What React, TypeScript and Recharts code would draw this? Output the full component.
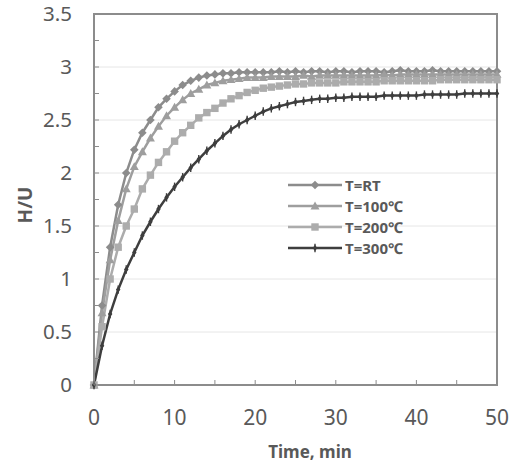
import React from 'react';
import { LineChart, Line, XAxis, YAxis, CartesianGrid, Legend, ReferenceArea, Label } from 'recharts';

const times: number[] = Array.from({ length: 51 }, (_, i) => i);

const seriesRT: number[] = [
  0, 0.75, 1.3, 1.7, 2.0, 2.22, 2.38, 2.5, 2.62, 2.7, 2.77,
  2.83, 2.87, 2.9, 2.92, 2.93, 2.94, 2.94, 2.95, 2.95, 2.95,
  2.95, 2.95, 2.96, 2.95, 2.96, 2.95, 2.96, 2.96, 2.95, 2.96,
  2.96, 2.95, 2.96, 2.96, 2.96, 2.95, 2.96, 2.97, 2.96, 2.96,
  2.96, 2.97, 2.96, 2.96, 2.96, 2.96, 2.96, 2.96, 2.96, 2.96,
];
const series100: number[] = [
  0, 0.68, 1.18, 1.55, 1.85, 2.06, 2.2, 2.33, 2.44, 2.54, 2.62,
  2.69, 2.75, 2.79, 2.83, 2.85, 2.87, 2.88, 2.89, 2.9, 2.9,
  2.9, 2.91, 2.91, 2.91, 2.91, 2.92, 2.91, 2.92, 2.92, 2.92,
  2.92, 2.92, 2.92, 2.92, 2.92, 2.93, 2.92, 2.93, 2.93, 2.93,
  2.93, 2.93, 2.93, 2.93, 2.93, 2.93, 2.93, 2.93, 2.93, 2.93,
];
const series200: number[] = [
  0, 0.55, 1.0, 1.3, 1.5, 1.66, 1.85, 1.98, 2.1, 2.2, 2.3,
  2.38, 2.45, 2.52, 2.57, 2.61, 2.66, 2.7, 2.73, 2.76, 2.78,
  2.8, 2.81, 2.82, 2.83, 2.84, 2.84, 2.85, 2.85, 2.85, 2.85,
  2.86, 2.86, 2.86, 2.86, 2.86, 2.87, 2.87, 2.87, 2.87, 2.87,
  2.87, 2.87, 2.88, 2.88, 2.88, 2.88, 2.88, 2.88, 2.88, 2.88,
];
const series300: number[] = [
  0, 0.37, 0.67, 0.9, 1.09, 1.25, 1.41, 1.54, 1.66, 1.77, 1.87,
  1.96, 2.05, 2.13, 2.21, 2.28, 2.35, 2.41, 2.46, 2.5, 2.54,
  2.58, 2.61, 2.63, 2.65, 2.67, 2.68, 2.69, 2.7, 2.7, 2.71,
  2.71, 2.72, 2.72, 2.72, 2.72, 2.73, 2.73, 2.73, 2.73, 2.73,
  2.74, 2.74, 2.74, 2.74, 2.74, 2.75, 2.75, 2.75, 2.75, 2.75,
];

const seriesNames: string[] = ['T=RT', 'T=100\u2103', 'T=200\u2103', 'T=300\u2103'];
const xTicks: number[] = [0, 5, 10, 15, 20, 25, 30, 35, 40, 45, 50];
const xLabelTicks: number[] = [0, 10, 20, 30, 40, 50];
const yTicks: number[] = [0, 0.25, 0.5, 0.75, 1, 1.25, 1.5, 1.75, 2, 2.25, 2.5, 2.75, 3, 3.25, 3.5];
const yLabelTicks: number[] = [0, 0.5, 1, 1.5, 2, 2.5, 3, 3.5];
const gridValues: number[] = [0.5, 1, 1.5, 2, 2.5, 3];

const data = times.map((t, i) => ({
  t,
  rt: seriesRT[i],
  c100: series100[i],
  c200: series200[i],
  c300: series300[i],
}));

const COLORS = ['#8c8c8c', '#9e9e9e', '#acacac', '#3e3e3e'];
const TEXT = '#595959';
const AXIS = '#8c8c8c';
const FONT = '"Noto Sans", sans-serif';
const X_MARGIN = 12;
const Y_MARGIN = 22;

const markerShape = (kind: number, cx: number, cy: number, color: string, key?: any) => {
  if (cx == null || cy == null || isNaN(cx) || isNaN(cy)) return <g key={key} />;
  if (kind === 0) {
    const r = 4.3;
    return <polygon key={key} points={`${cx},${cy - r} ${cx + r},${cy} ${cx},${cy + r} ${cx - r},${cy}`} fill={color} />;
  }
  if (kind === 1) {
    const r = 4.5;
    return <polygon key={key} points={`${cx},${cy - r} ${cx + r},${cy + r * 0.75} ${cx - r},${cy + r * 0.75}`} fill={color} />;
  }
  if (kind === 2) {
    const r = 3.7;
    return <rect key={key} x={cx - r} y={cy - r} width={2 * r} height={2 * r} fill={color} />;
  }
  const r = 3.2;
  return (
    <g key={key}>
      <polygon points={`${cx},${cy - r} ${cx + r * 0.7},${cy} ${cx},${cy + r} ${cx - r * 0.7},${cy}`} fill={color} />
      <line x1={cx} y1={cy - r - 1} x2={cx} y2={cy + r + 1} stroke={color} strokeWidth={1.4} />
    </g>
  );
};

const makeDot = (kind: number) => (props: any) =>
  markerShape(kind, props.cx, props.cy, COLORS[kind], props.key ?? props.index);

const XTick = (props: any) => {
  const { x, y, payload } = props;
  const axisY = y - X_MARGIN;
  const v = payload.value;
  return (
    <g>
      <line x1={x} x2={x} y1={axisY} y2={axisY - 5} stroke={AXIS} strokeWidth={1} />
      {xLabelTicks.includes(v) && (
        <text x={x} y={axisY + 40} textAnchor="middle" fill={TEXT} fontSize={21} fontFamily={FONT}>
          {v}
        </text>
      )}
    </g>
  );
};

const YTick = (props: any) => {
  const { x, y, payload } = props;
  const axisX = x + Y_MARGIN;
  const v = payload.value;
  return (
    <g>
      <line x1={axisX} x2={axisX + 5} y1={y} y2={y} stroke={AXIS} strokeWidth={1} />
      {yLabelTicks.includes(v) && (
        <text x={x} y={y} dy="0.36em" textAnchor="end" fill={TEXT} fontSize={20.5} fontFamily={FONT}>
          {v}
        </text>
      )}
    </g>
  );
};

const LegendContent = () => (
  <div style={{ fontFamily: FONT, fontWeight: 700, fontSize: 15, color: TEXT, lineHeight: '21px' }}>
    {seriesNames.map((name, i) => (
      <div key={name} style={{ display: 'flex', alignItems: 'center', height: 21, whiteSpace: 'nowrap' }}>
        <svg width={56} height={12} style={{ display: 'block' }}>
          <line x1={0} x2={54} y1={6} y2={6} stroke={COLORS[i]} strokeWidth={2.5} />
          {markerShape(i, 27, 6, COLORS[i])}
        </svg>
        <span style={{ marginLeft: 1 }}>{name}</span>
      </div>
    ))}
  </div>
);

export default function App() {
  const keys = ['rt', 'c100', 'c200', 'c300'];
  return (
    <div style={{ position: 'absolute', left: 0, top: 0 }}>
      <LineChart width={516} height={469} data={data} margin={{ top: 14, right: 19, bottom: 0, left: 0 }}>
        <CartesianGrid horizontal vertical={false} horizontalValues={gridValues} stroke="#e6e6e6" strokeWidth={1} />
        <ReferenceArea x1={0} x2={50} y1={0} y2={3.5} fill="none" stroke={AXIS} strokeWidth={2} ifOverflow="visible" />
        <XAxis
          type="number"
          dataKey="t"
          domain={[0, 50]}
          ticks={xTicks}
          interval={0}
          tickSize={0}
          tickMargin={X_MARGIN}
          tick={<XTick />}
          axisLine={{ stroke: AXIS, strokeWidth: 2 }}
          height={84}
        >
          <Label
            content={(p: any) => {
              const vb = p.viewBox || {};
              return (
                <text x={vb.x + vb.width / 2 + 14.5} y={vb.y + 73} textAnchor="middle" fill={TEXT} fontSize={17} fontWeight={700} fontFamily={FONT}>
                  Time, min
                </text>
              );
            }}
          />
        </XAxis>
        <YAxis
          type="number"
          domain={[0, 3.5]}
          ticks={yTicks}
          interval={0}
          tickSize={0}
          tickMargin={Y_MARGIN}
          tick={<YTick />}
          axisLine={{ stroke: AXIS, strokeWidth: 2 }}
          width={94}
        >
          <Label
            content={(p: any) => {
              const vb = p.viewBox || {};
              const cx = vb.x + 25;
              const cy = vb.y + vb.height / 2 + 5.5;
              return (
                <text x={cx} y={cy} transform={`rotate(-90, ${cx}, ${cy})`} textAnchor="middle" dominantBaseline="central" fill={TEXT} fontSize={19} fontWeight={700} fontFamily={FONT}>
                  H/U
                </text>
              );
            }}
          />
        </YAxis>
        <Legend
          layout="vertical"
          align="center"
          verticalAlign="middle"
          content={<LegendContent />}
          wrapperStyle={{ position: 'absolute', left: 288, top: 174.5, width: 'auto' }}
        />
        {keys.map((k, i) => (
          <Line
            key={k}
            type="linear"
            dataKey={k}
            name={seriesNames[i]}
            stroke={COLORS[i]}
            strokeWidth={2.5}
            dot={makeDot(i)}
            activeDot={false}
            isAnimationActive={false}
          />
        ))}
      </LineChart>
    </div>
  );
}
